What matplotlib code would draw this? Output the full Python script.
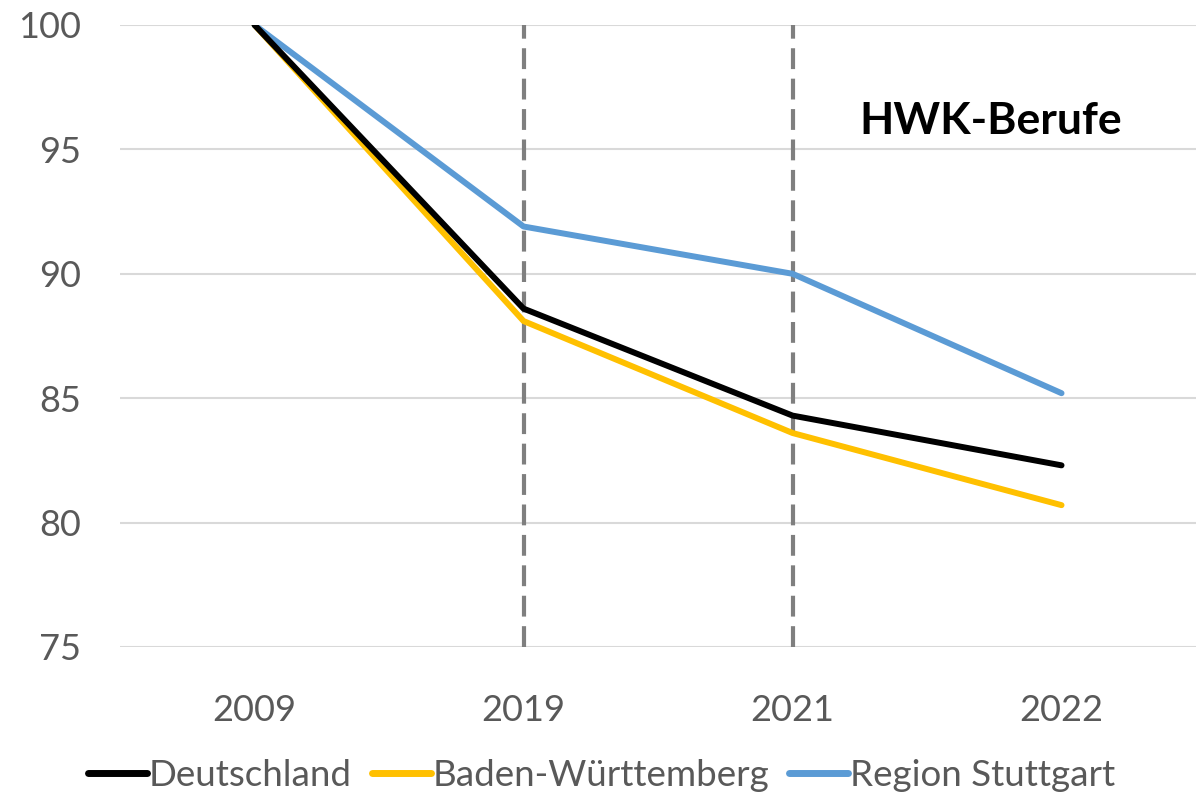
import matplotlib
matplotlib.use('Agg')
from matplotlib import pyplot as plt

# Daten (Index 2009 = 100)
years = ['2009', '2019', '2021', '2022']
deutschland = [100, 88.6, 84.3, 82.3]
baden_wuerttemberg = [100, 88.1, 83.6, 80.7]
region_stuttgart = [100, 91.9, 90.0, 85.2]
marked_years = ['2019', '2021']

plt.rcParams['font.family'] = ['Lato', 'DejaVu Sans']

fig = plt.figure(figsize=(12.03, 8.01), dpi=100)
ax = fig.add_axes([0.0998, 0.1923, 0.8944, 0.7765])

x = list(range(len(years)))

# Gestrichelte Linien bei 2019 und 2021
for yr in marked_years:
    ax.axvline(years.index(yr), color='#7f7f7f', lw=3, ls=(0, (5, 2.3)), zorder=1)

ax.plot(x, deutschland, color='black', lw=4.3, label='Deutschland', zorder=3,
        solid_capstyle='round')
ax.plot(x, baden_wuerttemberg, color='#ffc000', lw=4.3, label='Baden-Württemberg', zorder=2,
        solid_capstyle='round')
ax.plot(x, region_stuttgart, color='#5b9bd5', lw=4.3, label='Region Stuttgart', zorder=2,
        solid_capstyle='round')

ax.set_xlim(-0.5, len(years) - 0.5)
ax.set_ylim(75, 100)
ax.set_yticks(range(75, 101, 5))
ax.set_xticks(x)
ax.set_xticklabels(years)
ax.grid(axis='y', color='#d9d9d9', lw=1.5, zorder=0)
ax.set_axisbelow(True)
for s in ax.spines.values():
    s.set_visible(False)
ax.tick_params(length=0, labelsize=26, colors='#595959')
ax.tick_params(axis='y', pad=28)
ax.tick_params(axis='x', pad=34)

ax.text(0.809, 0.845, 'HWK-Berufe', transform=ax.transAxes, ha='center', va='center',
        fontsize=32, fontweight='bold', color='black')

leg = fig.legend(loc='center', bbox_to_anchor=(0.5, 0.032), ncol=3, frameon=False,
                 fontsize=26.5, handlelength=1.6, handletextpad=0.05, columnspacing=0.55,
                 labelcolor='#595959')
for h in leg.get_lines():
    h.set_linewidth(5)
    h.set_solid_capstyle('round')

fig.savefig('out.png', dpi=100)
